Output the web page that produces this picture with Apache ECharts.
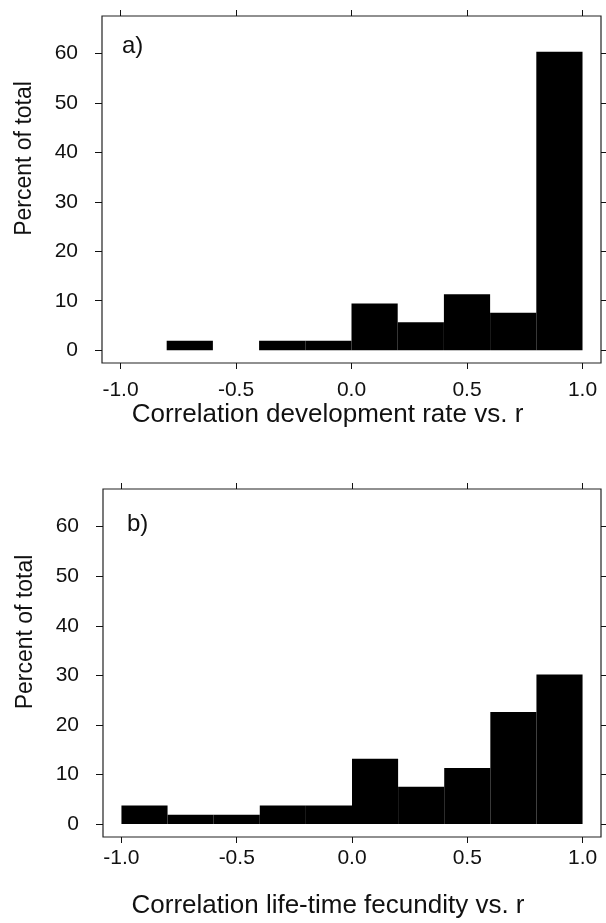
<!DOCTYPE html>
<html>
<head>
<meta charset="utf-8">
<script src="https://cdn.jsdelivr.net/npm/echarts@6/dist/echarts.min.js"></script>
<style>
html,body{margin:0;padding:0;background:#fff;}
#chart{width:606px;height:923px;}
</style>
</head>
<body>
<div id="chart"></div>
<script>
// Histogram bin edges (correlation coefficient)
const binStarts = [-1.0, -0.8, -0.6, -0.4, -0.2, 0.0, 0.2, 0.4, 0.6, 0.8];
const binEnds   = [-0.8, -0.6, -0.4, -0.2, 0.0, 0.2, 0.4, 0.6, 0.8, 1.0];
// Percent of total (n = 53 in each panel)
const pctDevRate   = [0, 1.89, 0, 1.89, 1.89, 9.43, 5.66, 11.32, 7.55, 60.38];
const pctFecundity = [3.77, 1.89, 1.89, 3.77, 3.77, 13.21, 7.55, 11.32, 22.64, 30.19];
// Tick labels
const xTicks = [-1.0, -0.5, 0.0, 0.5, 1.0];
const yTicks = [0, 10, 20, 30, 40, 50, 60];
const panelLabels = ['a)', 'b)'];
const xTitles = ['Correlation development rate vs. r', 'Correlation life-time fecundity vs. r'];
const yTitle = 'Percent of total';

const FONT = "'Liberation Sans', Arial, Helvetica, sans-serif";
const INK = '#111';

function rows(vals) {
  return binStarts.map((s, i) => [s, binEnds[i], vals[i]]);
}

const grids = [
  {left: 102, top: 16, right: 5, height: 347},
  {left: 103, top: 489, right: 5, height: 348}
];
const xLabelMargin = [17, 11];
const xNameGap = [38, 56];

const chart = echarts.init(document.getElementById('chart'), null, {renderer: 'canvas'});

const xAxes = [], yAxes = [], series = [], titles = [];
grids.forEach((g, i) => {
  // bottom axis with labels
  xAxes.push({
    type: 'value', gridIndex: i, position: 'bottom', min: -1.08, max: 1.08,
    name: xTitles[i], nameLocation: 'middle', nameGap: xNameGap[i],
    nameTextStyle: {fontFamily: FONT, fontSize: 26, color: INK, padding: [0, 48, 0, 0]},
    axisLine: {show: false, onZero: false},
    axisTick: {show: true, length: 6, lineStyle: {color: INK}, customValues: xTicks},
    axisLabel: {show: true, customValues: xTicks, margin: xLabelMargin[i], fontFamily: FONT, fontSize: 21, color: INK,
      formatter: v => v.toFixed(1)},
    splitLine: {show: false}
  });
  // top axis ticks only
  xAxes.push({
    type: 'value', gridIndex: i, position: 'top', min: -1.08, max: 1.08,
    axisLine: {show: false, onZero: false},
    axisTick: {show: true, length: 6, lineStyle: {color: INK}, customValues: xTicks},
    axisLabel: {show: false},
    splitLine: {show: false}
  });
  yAxes.push({
    type: 'value', gridIndex: i, position: 'left', min: -2.6, max: 67.6,
    name: yTitle, nameLocation: 'middle', nameGap: 66, nameRotate: 90,
    nameTextStyle: {fontFamily: FONT, fontSize: 23, color: INK, padding: [0, 0, 0, 62]},
    axisLine: {show: false, onZero: false},
    axisTick: {show: true, length: 7, lineStyle: {color: INK}, customValues: yTicks},
    axisLabel: {show: true, customValues: yTicks, margin: 24, fontFamily: FONT, fontSize: 21, color: INK},
    splitLine: {show: false}
  });
  yAxes.push({
    type: 'value', gridIndex: i, position: 'right', min: -2.6, max: 67.6,
    axisLine: {show: false, onZero: false},
    axisTick: {show: true, length: 5, lineStyle: {color: INK}, customValues: yTicks},
    axisLabel: {show: false},
    splitLine: {show: false}
  });
  series.push({
    type: 'custom', xAxisIndex: i * 2, yAxisIndex: i * 2,
    data: rows(i === 0 ? pctDevRate : pctFecundity),
    encode: {x: [0, 1], y: 2},
    renderItem: function (params, api) {
      const p0 = api.coord([api.value(0), api.value(2)]);
      const p1 = api.coord([api.value(1), 0]);
      return {type: 'rect', shape: {x: p0[0], y: p0[1], width: p1[0] - p0[0], height: p1[1] - p0[1]},
        style: {fill: '#000'}};
    },
    silent: true, animation: false
  });
  titles.push({
    text: panelLabels[i], left: i === 0 ? 122 : 127, top: i === 0 ? 34 : 512,
    textStyle: {fontFamily: FONT, fontSize: 24, fontWeight: 'normal', color: INK}, padding: 0
  });
});

chart.setOption({
  animation: false,
  backgroundColor: '#fff',
  title: titles,
  grid: grids.map(g => Object.assign({show: true, borderColor: '#222', borderWidth: 1.2, backgroundColor: 'transparent'}, g)),
  xAxis: xAxes,
  yAxis: yAxes,
  series: series
});
</script>
</body>
</html>
